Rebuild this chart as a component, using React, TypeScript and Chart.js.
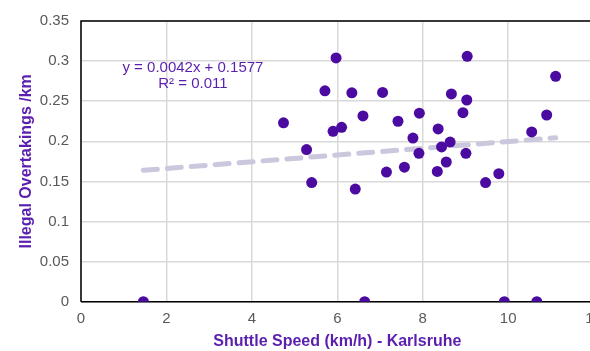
import React, { useEffect, useRef } from "react";
import { Chart, registerables } from "chart.js";

Chart.register(...registerables);

const speedKmh: number[] = [
  5.97, 5.71, 6.34, 7.06, 9.04, 8.67, 9.03, 11.11, 6.6, 7.92, 7.42, 8.94,
  10.9, 5.9, 6.1, 8.36, 7.77, 10.55, 5.28, 8.44, 8.64, 7.91, 9.01, 7.15,
  7.57, 8.34, 8.55, 5.4, 9.47, 9.78, 6.42, 4.74, 1.46, 6.64, 9.91, 10.67,
];
const overtakingsPerKm: number[] = [
  0.304, 0.263, 0.2605, 0.261, 0.306, 0.259, 0.2515, 0.281, 0.2316, 0.235,
  0.225, 0.2357, 0.2328, 0.2125, 0.2174, 0.2154, 0.204, 0.2117, 0.1897,
  0.193, 0.199, 0.185, 0.185, 0.1617, 0.1677, 0.1624, 0.1742, 0.1486,
  0.1486, 0.1596, 0.1404, 0.223, 0, 0, 0, 0,
];
const trendSlope = 0.0042;
const trendIntercept = 0.1577;
const trendX: number[] = [1.46, 11.11];
const equationLines: string[] = ["y = 0.0042x + 0.1577", "R² = 0.011"];

const PURPLE = "#4b0aa0";
const TEXT_PURPLE = "#5a1fae";
const FONT = "'Liberation Sans', Arial, sans-serif";

const borderPlugin = {
  id: "plotBorder",
  beforeDatasetsDraw(chart: any) {
    const { ctx, chartArea } = chart;
    ctx.save();
    ctx.strokeStyle = "#000000";
    ctx.lineWidth = 1.5;
    ctx.beginPath();
    ctx.moveTo(chartArea.left, chartArea.bottom);
    ctx.lineTo(chartArea.left, chartArea.top);
    ctx.lineTo(chartArea.right, chartArea.top);
    ctx.moveTo(chartArea.left, chartArea.bottom);
    ctx.lineTo(chartArea.right, chartArea.bottom);
    ctx.stroke();
    ctx.restore();
  },
  afterDatasetsDraw(chart: any) {
    const { ctx } = chart;
    const xs = chart.scales.x;
    const ys = chart.scales.y;
    ctx.save();
    ctx.fillStyle = TEXT_PURPLE;
    ctx.font = `15px ${FONT}`;
    ctx.textAlign = "center";
    ctx.textBaseline = "middle";
    const cx = xs.getPixelForValue(2.62);
    ctx.fillText(equationLines[0], cx, ys.getPixelForValue(0.2915));
    ctx.fillText(equationLines[1], cx, ys.getPixelForValue(0.271));
    ctx.restore();
  },
};

export default function App() {
  const ref = useRef<HTMLCanvasElement | null>(null);
  useEffect(() => {
    if (!ref.current) return;
    const points = speedKmh.map((x, i) => ({ x, y: overtakingsPerKm[i] }));
    const trend = trendX.map((x) => ({ x, y: trendSlope * x + trendIntercept }));
    const chart = new Chart(ref.current, {
      type: "scatter",
      data: {
        datasets: [
          {
            type: "line",
            data: trend,
            borderColor: "#cbc8de",
            borderWidth: 5,
            borderDash: [14, 10],
            borderCapStyle: "round",
            pointRadius: 0,
            fill: false,
            order: 2,
          } as any,
          {
            data: points,
            backgroundColor: PURPLE,
            borderColor: PURPLE,
            borderWidth: 0,
            pointRadius: 5.5,
            order: 1,
          },
        ],
      },
      options: {
        animation: false,
        responsive: false,
        layout: { padding: { top: 15, right: 16, left: 0, bottom: 0 } },
        plugins: {
          legend: { display: false },
          tooltip: { enabled: false },
        },
        scales: {
          x: {
            type: "linear",
            min: 0,
            max: 12,
            ticks: {
              stepSize: 2,
              color: "#595959",
              font: { family: FONT, size: 15 },
              padding: 8,
            },
            grid: { color: "#d9d9d9", lineWidth: 1.5, drawTicks: false },
            border: { display: false },
            title: {
              display: true,
              text: "Shuttle Speed (km/h) - Karlsruhe",
              color: TEXT_PURPLE,
              font: { family: FONT, size: 16, weight: "bold" },
              padding: { top: 4, bottom: 0 },
            },
            afterFit(scale: any) {
              scale.height = 49.3;
            },
          },
          y: {
            type: "linear",
            min: 0,
            max: 0.35,
            ticks: {
              stepSize: 0.05,
              color: "#595959",
              font: { family: FONT, size: 15 },
              padding: 12,
              callback: (v: any) => String(Math.round(Number(v) * 100) / 100),
            },
            grid: { color: "#d9d9d9", lineWidth: 1.5, drawTicks: false },
            border: { display: false },
            title: {
              display: true,
              text: "Illegal Overtakings /km",
              color: TEXT_PURPLE,
              font: { family: FONT, size: 16, weight: "bold" },
              padding: { top: 17, bottom: 0 },
            },
            afterFit(scale: any) {
              scale.width = 81;
            },
          },
        },
      },
      plugins: [borderPlugin],
    });
    return () => chart.destroy();
  }, []);
  return (
    <div style={{ position: "fixed", left: 0, top: 0, width: 590, height: 351, overflow: "hidden", background: "#fff" }}>
      <canvas ref={ref} width={610} height={351} style={{ width: 610, height: 351, display: "block" }} />
    </div>
  );
}
